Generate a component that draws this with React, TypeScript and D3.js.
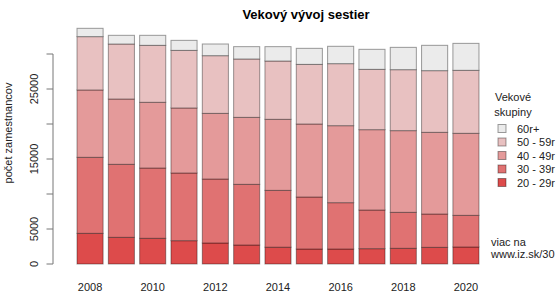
import React from "react";
import * as d3 from "d3";

const years = [2008, 2009, 2010, 2011, 2012, 2013, 2014, 2015, 2016, 2017, 2018, 2019, 2020];
const age20_29 = [4380, 3810, 3670, 3330, 3000, 2710, 2400, 2140, 2140, 2190, 2240, 2380, 2430];
const age30_39 = [10860, 10430, 10040, 9670, 9140, 8670, 8120, 7430, 6620, 5520, 5140, 4760, 4520];
const age40_49 = [9620, 9330, 9390, 9290, 9380, 9570, 10150, 10430, 11000, 11480, 11670, 11670, 11720];
const age50_59 = [7620, 7860, 8140, 8230, 8240, 8340, 8330, 8520, 8860, 8620, 8710, 8810, 9000];
const age60plus = [1190, 1240, 1430, 1430, 1670, 1760, 2050, 2290, 2480, 2860, 3190, 3620, 3850];
const seriesNames = ["20 - 29r", "30 - 39r", "40 - 49r", "50 - 59r", "60r+"];
const seriesColors = ["#DD4B4B", "#E07272", "#E49A9A", "#E8C1C1", "#EBEBEB"];
const yTicks = [0, 5000, 10000, 15000, 20000, 25000, 30000];
const yTickLabels = ["0", "5000", "", "15000", "", "25000", ""];
const xLabelYears = [2008, 2010, 2012, 2014, 2016, 2018, 2020];

const FONT = "'Liberation Sans', Arial, Helvetica, sans-serif";

export default function App() {
  const series = [age20_29, age30_39, age40_49, age50_59, age60plus];
  const rows = years.map((y, i) => {
    const r: any = { year: y };
    seriesNames.forEach((n, k) => (r[n] = series[k][i]));
    return r;
  });
  const stacked = d3.stack().keys(seriesNames)(rows);

  const x = d3
    .scaleBand<number>()
    .domain(years)
    .range([77, 479])
    .paddingInner(1 / 6)
    .paddingOuter(0);
  const y = d3.scaleLinear().domain([0, 30000]).range([264, 54]);

  const legendY0 = 128.5;
  const legendStep = 13.5;
  const legendOrder = [4, 3, 2, 1, 0];

  return (
    <svg
      width={560}
      height={294}
      style={{ position: "absolute", left: 0, top: 0, background: "#fff" }}
      fontFamily={FONT}
    >
      <rect x={0} y={0} width={560} height={294} fill="#fff" />
      <text x={306} y={14} textAnchor="middle" dominantBaseline="central" fontWeight="bold" fontSize={13}>
        Vekový vývoj sestier
      </text>

      {stacked.map((layer, k) => (
        <g key={k}>
          {layer.map((d, i) => (
            <rect
              key={i}
              x={x(years[i])!}
              y={y(d[1])}
              width={x.bandwidth()}
              height={y(d[0]) - y(d[1])}
              fill={seriesColors[k]}
              stroke="rgba(0,0,0,0.38)"
              strokeWidth={1}
            />
          ))}
        </g>
      ))}

      {/* y axis */}
      <line x1={53} x2={53} y1={y(0)} y2={y(30000)} stroke="#777" />
      {yTicks.map((t, i) => (
        <g key={t}>
          <line x1={46.5} x2={53} y1={y(t)} y2={y(t)} stroke="#777" />
          {yTickLabels[i] && (
            <text
              transform={`translate(34,${y(t)}) rotate(-90)`}
              textAnchor="middle"
              dominantBaseline="central"
              fontSize={11}
              fill="#222"
            >
              {yTickLabels[i]}
            </text>
          )}
        </g>
      ))}
      <text
        transform={`translate(8,133) rotate(-90)`}
        textAnchor="middle"
        dominantBaseline="central"
        fontSize={11}
        fill="#222"
      >
        počet zamestnancov
      </text>

      {xLabelYears.map((yr) => (
        <text
          key={yr}
          x={x(yr)! + x.bandwidth() / 2}
          y={287}
          textAnchor="middle"
          dominantBaseline="central"
          fontSize={11}
          fill="#222"
        >
          {yr}
        </text>
      ))}

      {/* legend */}
      <text x={513} y={97} textAnchor="middle" dominantBaseline="central" fontSize={11} fill="#222">
        Vekové
      </text>
      <text x={513} y={112} textAnchor="middle" dominantBaseline="central" fontSize={11} fill="#222">
        skupiny
      </text>
      {legendOrder.map((k, j) => (
        <g key={k}>
          <rect
            x={498}
            y={legendY0 + j * legendStep - 4}
            width={8}
            height={8}
            fill={seriesColors[k]}
            stroke="rgba(0,0,0,0.38)"
          />
          <text
            x={517}
            y={legendY0 + j * legendStep}
            dominantBaseline="central"
            fontSize={11}
            fill="#222"
          >
            {seriesNames[k]}
          </text>
        </g>
      ))}

      <text x={491} y={241.5} dominantBaseline="central" fontSize={11} fill="#222">
        viac na
      </text>
      <text x={491} y={253.5} dominantBaseline="central" fontSize={11} fill="#222">
        www.iz.sk/30
      </text>
    </svg>
  );
}
